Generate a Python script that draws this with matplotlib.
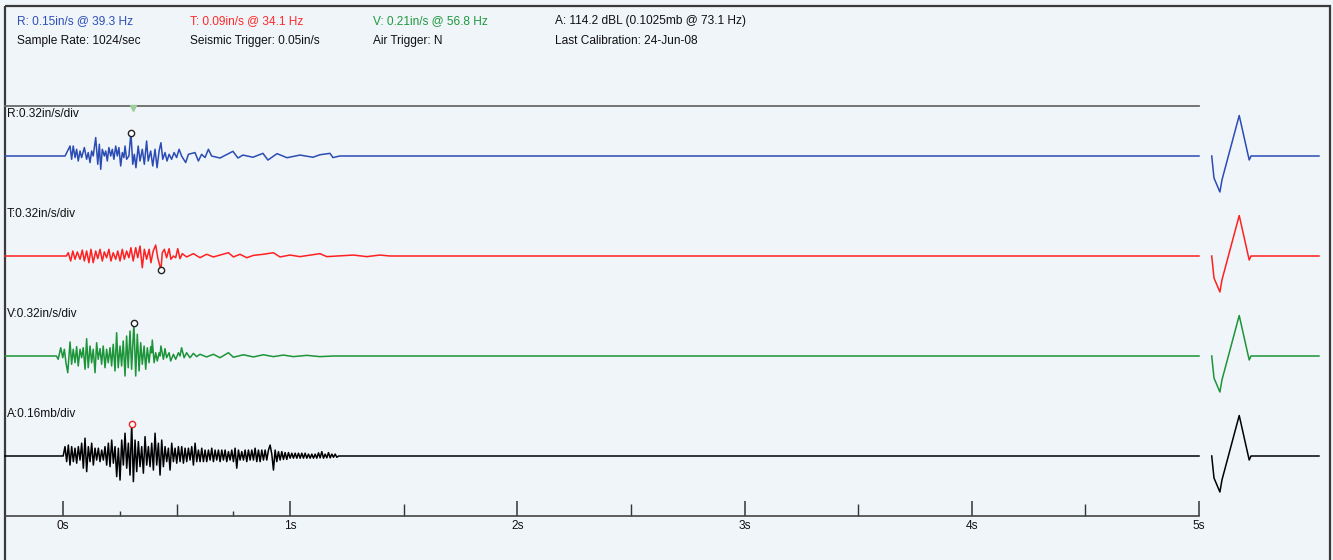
import numpy as np
import matplotlib.pyplot as plt
from matplotlib import font_manager
from matplotlib.patches import Rectangle

# ---- event record (time in s, velocity in in/s, air pressure in mb) ----
r_t = [0.009, 0.031, 0.038, 0.045, 0.053, 0.060, 0.067, 0.075, 0.082, 0.094,
       0.104, 0.111, 0.119, 0.126, 0.133, 0.144, 0.153, 0.160, 0.166, 0.173,
       0.182, 0.188, 0.195, 0.202, 0.210, 0.217, 0.224, 0.232, 0.239, 0.246,
       0.254, 0.261, 0.268, 0.273, 0.280, 0.290, 0.299, 0.307, 0.314, 0.321,
       0.331, 0.339, 0.349, 0.358, 0.368, 0.375, 0.386, 0.395, 0.405, 0.414,
       0.423, 0.431, 0.439, 0.449, 0.458, 0.467, 0.478, 0.489, 0.500, 0.511,
       0.522, 0.540, 0.552, 0.581, 0.596, 0.610, 0.625, 0.640, 0.654, 0.691,
       0.748, 0.770, 0.792, 0.836, 0.880, 0.902, 0.942, 0.986, 1.043, 1.100,
       1.131, 1.175, 1.188, 1.219]
r_v = [0.0, 0.064, -0.021, 0.064, -0.010, 0.043, -0.032, 0.032, -0.010, 0.054,
       -0.021, 0.022, -0.042, 0.032, 0.0, 0.118, -0.053, 0.075, -0.085, 0.043,
       0.0, 0.032, -0.032, 0.054, 0.0, 0.043, -0.021, 0.064, 0.0, 0.054,
       -0.064, 0.022, -0.010, 0.064, -0.021, 0.0, 0.15, -0.053, 0.011, -0.075,
       0.064, -0.032, 0.043, -0.053, 0.096, -0.032, 0.032, -0.064, 0.043, -0.075,
       0.032, 0.085, -0.021, 0.022, -0.032, 0.011, -0.021, 0.022, -0.010, 0.043,
       0.0, -0.042, 0.011, 0.022, -0.032, 0.011, -0.010, 0.043, 0.0, -0.013,
       0.030, -0.013, 0.006, -0.008, 0.017, -0.026, 0.015, -0.011, 0.006, -0.008,
       0.008, 0.017, -0.010, 0.0]

t_t = [0.023, 0.034, 0.043, 0.053, 0.063, 0.075, 0.085, 0.094, 0.104, 0.114,
       0.123, 0.133, 0.144, 0.153, 0.163, 0.173, 0.182, 0.192, 0.202, 0.211,
       0.221, 0.232, 0.241, 0.251, 0.261, 0.270, 0.280, 0.290, 0.299, 0.309,
       0.320, 0.329, 0.339, 0.349, 0.358, 0.368, 0.379, 0.387, 0.397, 0.408,
       0.417, 0.431, 0.437, 0.446, 0.456, 0.467, 0.475, 0.486, 0.496, 0.505,
       0.515, 0.525, 0.544, 0.574, 0.603, 0.632, 0.662, 0.691, 0.728, 0.750,
       0.779, 0.809, 0.838, 0.882, 0.926, 0.955, 0.999, 1.043, 1.131, 1.161,
       1.278, 1.337, 1.395, 1.439]
t_v = [0.021, -0.032, 0.032, -0.021, 0.026, -0.021, 0.038, -0.032, 0.032, -0.043,
       0.043, -0.043, 0.032, -0.017, 0.043, -0.032, 0.026, -0.011, 0.043, -0.032,
       0.021, -0.021, 0.032, -0.032, 0.043, -0.021, 0.032, -0.011, 0.053, -0.032,
       0.053, -0.011, 0.064, -0.075, 0.043, -0.021, 0.043, -0.043, 0.032, 0.070,
       -0.011, -0.09, 0.021, 0.043, -0.011, 0.047, -0.021, 0.0, -0.011, 0.047,
       -0.017, 0.015, -0.006, 0.015, -0.011, 0.011, -0.006, 0.006, 0.021, -0.006,
       0.011, -0.011, 0.004, 0.011, 0.021, -0.006, 0.006, -0.004, 0.015, -0.004,
       0.006, -0.004, 0.006, 0.0]

v_t = [-0.021, -0.010, -0.001, 0.006, 0.013, 0.021, 0.031, 0.038, 0.045, 0.053,
       0.060, 0.067, 0.075, 0.082, 0.089, 0.097, 0.104, 0.111, 0.119, 0.126,
       0.133, 0.141, 0.148, 0.155, 0.163, 0.170, 0.177, 0.185, 0.192, 0.199,
       0.207, 0.214, 0.221, 0.229, 0.236, 0.243, 0.251, 0.258, 0.265, 0.273,
       0.280, 0.287, 0.295, 0.302, 0.312, 0.320, 0.327, 0.335, 0.342, 0.349,
       0.357, 0.364, 0.371, 0.379, 0.386, 0.390, 0.393, 0.401, 0.408, 0.415,
       0.423, 0.427, 0.431, 0.442, 0.449, 0.456, 0.467, 0.474, 0.486, 0.496,
       0.508, 0.515, 0.522, 0.533, 0.544, 0.559, 0.574, 0.588, 0.603, 0.632,
       0.662, 0.691, 0.728, 0.750, 0.794, 0.838, 0.882, 0.926, 0.970, 1.014,
       1.073, 1.131, 1.190]
v_v = [-0.021, 0.053, -0.011, 0.043, -0.043, -0.107, 0.090, -0.053, 0.043, -0.043,
       0.060, -0.064, 0.043, -0.011, 0.053, -0.085, 0.111, -0.075, 0.064, -0.043,
       0.043, -0.107, 0.085, -0.021, 0.047, -0.053, 0.064, -0.075, 0.043, -0.043,
       0.053, -0.064, 0.075, -0.096, 0.149, -0.075, 0.064, -0.064, 0.096, -0.128,
       0.128, -0.075, 0.160, -0.085, 0.21, -0.128, 0.139, -0.096, 0.085, -0.053,
       0.064, -0.085, 0.053, -0.043, 0.060, 0.020, 0.102, -0.043, 0.021, -0.032,
       0.021, 0.0, 0.064, -0.021, 0.047, -0.011, 0.021, -0.032, 0.011, -0.021,
       0.021, 0.0, 0.053, -0.011, 0.021, -0.011, 0.017, -0.004, 0.011, -0.006,
       0.011, -0.011, 0.021, -0.008, 0.008, -0.006, 0.008, -0.004, 0.006, -0.004,
       0.004, -0.004, 0.0]

# air channel, one reading per 7.34 ms from first arrival
a_start = 0.0088
a_step = 0.00734
a_v = [0.030, -0.018, 0.035, -0.029, 0.030, -0.018, 0.025, -0.023, 0.030, -0.013,
       0.041, -0.039, 0.057, -0.050, 0.030, -0.018, 0.041, -0.029, 0.025, -0.013,
       0.025, -0.018, 0.019, -0.013, 0.030, -0.029, 0.041, -0.034, 0.051, -0.023,
       0.030, -0.066, 0.025, -0.077, 0.051, -0.029, 0.073, -0.039, 0.041, -0.061,
       0.1025, -0.082, 0.051, -0.050, 0.046, -0.034, 0.030, -0.055, 0.062, -0.029,
       0.030, -0.034, 0.041, -0.045, 0.073, -0.029, 0.041, -0.061, 0.051, -0.034,
       0.030, -0.018, 0.025, -0.045, 0.041, -0.018, 0.025, -0.023, 0.030, -0.018,
       0.030, -0.023, 0.025, -0.018, 0.025, -0.013, 0.030, -0.029, 0.041, -0.018,
       0.019, -0.018, 0.025, -0.018, 0.019, -0.018, 0.019, -0.013, 0.025, -0.018,
       0.019, -0.013, 0.019, -0.018, 0.019, -0.013, 0.019, -0.018, 0.014, -0.013,
       0.019, -0.018, 0.025, -0.039, 0.019, -0.013, 0.014, -0.013, 0.019, -0.018,
       0.019, -0.013, 0.019, -0.013, 0.025, -0.018, 0.019, -0.018, 0.019, -0.013,
       0.019, -0.013, 0.019, 0.035, 0.006, -0.045, 0.019, -0.018, 0.014, -0.013,
       0.014, -0.011, 0.011, -0.011, 0.011, -0.007, 0.009, -0.007, 0.009, -0.007,
       0.009, -0.007, 0.009, -0.007, 0.009, -0.007, 0.006, -0.007, 0.006, -0.007,
       0.006, -0.007, 0.010, -0.006, 0.014, -0.007, 0.006, -0.006, 0.011, -0.006,
       0.006, -0.004, 0.006, -0.004]

# calibration pulse, in divisions
cal_t = [5.056, 5.066, 5.092, 5.101, 5.177, 5.217, 5.221, 5.229, 5.528]
cal_div = [0.0, -0.44, -0.72, -0.48, 0.81, 0.0, -0.08, 0.0, 0.0]

rec_start, rec_end = -0.255, 5.0

header = [
    ("R: 0.15in/s @ 39.3 Hz", "Sample Rate: 1024/sec", "#2d4fb8"),
    ("T: 0.09in/s @ 34.1 Hz", "Seismic Trigger: 0.05in/s", "#ff2a2a"),
    ("V: 0.21in/s @ 56.8 Hz", "Air Trigger: N", "#1f9a3c"),
    ("A: 114.2 dBL (0.1025mb @ 73.1 Hz)", "Last Calibration: 24-Jun-08", "#111111"),
]
header_x = [17, 190, 373, 555]

# name, times, values, units per div, baseline row, colour, peak (t, v), marker edge
a_t = list(a_start + a_step * np.arange(len(a_v)))
channels = [
    ("R:0.32in/s/div", r_t, r_v, 0.32, 156, "#2b4cb4", (0.299, 0.15), "#222222"),
    ("T:0.32in/s/div", t_t, t_v, 0.32, 256, "#ff2020", (0.431, -0.09), "#222222"),
    ("V:0.32in/s/div", v_t, v_v, 0.32, 356, "#1c9438", (0.312, 0.21), "#222222"),
    ("A:0.16mb/div", a_t, a_v, 0.16, 456, "#000000", (0.302, 0.1025), "#ee2222"),
]

names = {f.name for f in font_manager.fontManager.ttflist}
plt.rcParams['font.family'] = ['Liberation Sans Narrow'] if 'Liberation Sans Narrow' in names else ['Liberation Sans']

W, H = 1333, 560
px_per_s = 227.2
x_zero = 63
div_px = 50

fig = plt.figure(figsize=(W / 100, H / 100), dpi=100)
bg = '#f0f5fa'
fig.patch.set_facecolor(bg)

# pixel-space layer for frame and header
deco = fig.add_axes([0, 0, 1, 1])
deco.set_xlim(0, W)
deco.set_ylim(H, 0)
deco.axis('off')
deco.add_patch(Rectangle((5, 6), 1325, 560, fill=False, edgecolor='#3a3a3a', lw=1.6))
for x, (top, bottom, col) in zip(header_x, header):
    deco.text(x, 21, top, color=col, fontsize=8.6, va='center')
    deco.text(x, 41, bottom, color='#111111', fontsize=8.6, va='center')

# time layer
ax = fig.add_axes([0, 0, 1, 1])
ax.patch.set_alpha(0)
ax.set_xlim((0 - x_zero) / px_per_s, (W - x_zero) / px_per_s)
ax.set_ylim(H, 0)

ax.plot([rec_start, rec_end], [106, 106], color='#6a6a6a', lw=1.3)
ax.plot(0.308, 107.5, marker='v', ms=4, color='#9ccf9c', mec='#9ccf9c')

for label, ts, vs, scale, base, col, (pt, pv), mcol in channels:
    # flat baseline before first arrival and after the last wiggle
    tt = np.concatenate([[rec_start, ts[0] - 0.008], ts, [ts[-1] + 0.008, rec_end]])
    vv = np.concatenate([[0.0, 0.0], vs, [0.0, 0.0]])
    ax.plot(tt, base - vv / scale * div_px, color=col, lw=1.1)
    ax.plot(cal_t, base - np.array(cal_div) * div_px, color=col, lw=1.1)
    ax.plot(pt, base - pv / scale * div_px, marker='o', ms=4.5, mfc='white', mec=mcol, mew=1.0)
    ax.text(rec_start + 0.008, base - 42, label, fontsize=8.6, color='#111111', va='center')

for side in ['top', 'left', 'right']:
    ax.spines[side].set_visible(False)
axis_y = 516
ax.spines['bottom'].set_position(('data', axis_y))
ax.spines['bottom'].set_bounds(rec_start, rec_end)
ax.spines['bottom'].set_color('#444444')
ax.spines['bottom'].set_linewidth(1.2)
ax.set_yticks([])
ax.set_xticks(range(6))
ax.set_xticklabels([f"{s}s" for s in range(6)])
ax.set_xticks([0.5, 1.5, 2.5, 3.5, 4.5], minor=True)
ax.tick_params(axis='x', which='major', direction='in', length=11, width=1.1,
               color='#333333', labelsize=8.6, pad=3, labelcolor='#111111')
ax.tick_params(axis='x', which='minor', direction='in', length=9, width=1.0, color='#333333')
# short quarter-second ticks in the first second
ax.vlines([0.25, 0.75], axis_y - 5, axis_y, color='#333333', lw=1.0)

fig.savefig('out.png', dpi=100, facecolor=bg)
